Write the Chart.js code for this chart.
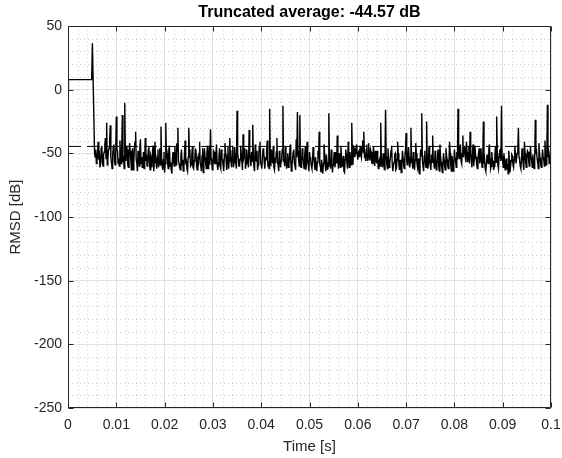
<!DOCTYPE html>
<html>
<head>
<meta charset="utf-8">
<script src="https://cdn.jsdelivr.net/npm/chart.js@4"></script>
<style>
  html, body { margin: 0; padding: 0; background: #fff; }
  #wrap { width: 562px; height: 458px; }
</style>
</head>
<body>
<div id="wrap"><canvas id="rmsdChart" width="562" height="458"></canvas></div>
<script>
// RMSD vs time, MATLAB style

// start of the record (before the noise settles)
var headTime = [0, 0.0001, 0.0049, 0.00505];
var headRmsd = [0, 7.9, 7.9, 36.5];

// noise part, one value every noiseStep seconds from noiseStart
var noiseStart = 0.0055;
var noiseStep = 0.000125;
var noiseRmsd = [
  -50, -53, -47, -58, -56, -49, -41, -55, -52, -61, -58, -46, -44, -57, -60, -51, -49, -43, -38, -54,
  -26, -59, -55, -48, -46, -40, -28, -53, -57, -62, -51, -45, -43, -56, -59, -50, -21, -47, -48, -58,
  -54, -60, -40, -52, -58, -45, -20, -57, -52, -62, -10.5, -50, -56, -44, -47, -59, -61, -53, -42, -48,
  -55, -63, -50, -46, -63, -57, -45, -41, -33, -55, -58, -64, -48, -52, -60, -45, -39, -58, -53, -61,
  -57, -49, -62, -55, -38, -56, -51, -60, -59, -47, -45, -58, -63, -52, -54, -61, -48, -44, -64, -57,
  -41, -53, -58, -62, -52, -47, -61, -56, -46, -59, -29, -54, -60, -63, -55, -49, -65, -58, -26, -52,
  -50, -58, -62, -47, -44, -60, -57, -63, -66, -54, -49, -57, -60, -45, -53, -59, -42, -48, -30, -56,
  -58, -61, -63, -52, -47, -59, -55, -64, -61, -50, -40, -57, -56, -62, -64, -53, -30, -47, -51, -60,
  -59, -52, -45, -61, -62, -56, -54, -47, -48, -60, -63, -55, -57, -50, -41, -58, -60, -64, -52, -46,
  -65, -57, -46, -53, -58, -62, -50, -44, -62, -55, -44, -59, -31, -54, -56, -63, -61, -48, -49, -58,
  -58, -50, -43, -57, -63, -59, -53, -46, -60, -62, -47, -55, -55, -60, -64, -51, -42, -49, -57, -63,
  -51, -45, -62, -56, -38, -52, -56, -61, -48, -44, -61, -57, -45, -53, -59, -62, -16.6, -50, -54, -60,
  -60, -55, -44, -51, -57, -63, -35, -54, -52, -46, -62, -58, -47, -53, -58, -61, -31.6, -50, -55, -60,
  -49, -56, -27.6, -52, -61, -64, -43, -55, -56, -48, -63, -59, -50, -45, -41, -57, -59, -62, -53, -47,
  -46, -57, -62, -54, -55, -48, -40, -59, -58, -62, -15, -53, -60, -47, -51, -58, -44, -61, -63, -55,
  -56, -49, -38, -57, -59, -64, -48, -52, -61, -56, -53, -47, -12.6, -55, -57, -60, -45, -51, -62, -58,
  -50, -61, -58, -52, -43, -56, -64, -59, -54, -49, -47, -58, -60, -63, -39, -53, -17.6, -48, -55, -60,
  -20, -54, -61, -57, -46, -52, -57, -62, -52, -45, -63, -58, -41, -55, -59, -64, -49, -53, -56, -60,
  -62, -56, -45, -52, -58, -63, -53, -60, -64, -57, -48, -54, -33, -59, -60, -65, -55, -61, -66, -58,
  -43, -50, -59, -64, -51, -57, -63, -60, -18.5, -54, -57, -62, -47, -53, -65, -59, -54, -49, -61, -57,
  -49, -58, -36, -55, -62, -50, -56, -61, -44, -53, -60, -57, -52, -64, -65, -55, -47, -51, -58, -62,
  -41, -54, -61, -49, -54, -59, -26, -52, -59, -45, -46, -53, -50, -47, -43, -51, -55, -49, -48, -53,
  -44, -50, -53, -46, -40, -49, -33, -52, -51, -56, -47, -43, -56, -51, -42, -55, -54, -47, -49, -57,
  -58, -52, -45, -54, -60, -48, -52, -58, -48, -53, -62, -57, -55, -60, -26, -54, -57, -61, -50, -55,
  -63, -56, -15.8, -52, -59, -62, -46, -55, -61, -57, -53, -48, -44, -58, -64, -60, -57, -51, -50, -63,
  -62, -55, -41, -50, -58, -63, -55, -60, -65, -57, -48, -54, -60, -62, -52, -47, -34, -56, -59, -53,
  -45, -53, -61, -57, -30, -54, -56, -62, -49, -58, -63, -55, -42, -50, -58, -61, -54, -63, -66, -57,
  -47, -52, -18.5, -56, -60, -64, -52, -48, -57, -61, -25, -53, -62, -58, -44, -55, -59, -63, -51, -57,
  -36, -55, -58, -62, -48, -56, -63, -59, -53, -47, -60, -64, -43, -52, -57, -61, -65, -58, -50, -55,
  -61, -63, -46, -52, -55, -60, -62, -57, -41, -50, -59, -64, -52, -56, -64, -60, -47, -53, -56, -61,
  -49, -55, -15, -51, -54, -47, -43, -56, -58, -50, -36, -53, -47, -44, -52, -57, -41, -49, -57, -52,
  -45, -58, -33, -50, -55, -61, -48, -43, -60, -54, -44, -51, -53, -59, -62, -55, -50, -46, -58, -54,
  -46, -57, -61, -52, -25, -58, -55, -62, -64, -59, -51, -56, -58, -47, -43, -54, -62, -60, -49, -55,
  -56, -63, -60, -52, -45, -57, -21, -50, -59, -62, -53, -48, -47, -56, -12.6, -52, -57, -61, -50, -55,
  -63, -58, -54, -61, -60, -66, -48, -55, -65, -60, -56, -51, -52, -59, -61, -55, -44, -50, -58, -54,
  -50, -47, -30, -53, -55, -60, -62, -56, -46, -52, -59, -63, -41, -50, -57, -61, -53, -48, -49, -56,
  -60, -52, -45, -53, -56, -61, -51, -57, -62, -55, -23.7, -49, -48, -54, -58, -62, -42, -50, -54, -59,
  -61, -56, -47, -53, -55, -60, -40, -52, -59, -56, -11.8, -53, -50, -58, -57, -49, -44
];

var truncAvg = -44.57;
var xRange = [0, 0.1];
var yRange = [-250, 50];
var xMajor = 0.01, xMinor = 0.002;
var yMajor = 50, yMinor = 10;

var signal = [];
for (var i = 0; i < headTime.length; i++) signal.push({x: headTime[i], y: headRmsd[i]});
for (var j = 0; j < noiseRmsd.length; j++) signal.push({x: noiseStart + j * noiseStep, y: noiseRmsd[j]});

var avgLine = [{x: xRange[0], y: truncAvg}, {x: xRange[1], y: truncAvg}];

var FONT = '"Liberation Sans", Arial, Helvetica, sans-serif';
var INK = '#262626';

var matlabFrame = {
  id: 'matlabFrame',
  beforeDraw: function(chart) {
    var c = chart.ctx;
    c.save();
    c.fillStyle = '#fff';
    c.fillRect(0, 0, chart.width, chart.height);
    c.restore();
  },
  beforeDatasetsDraw: function(chart) {
    var c = chart.ctx, a = chart.chartArea;
    var xs = chart.scales.x, ys = chart.scales.y;
    c.save();
    c.strokeStyle = '#cccccc';
    c.lineWidth = 1;
    c.setLineDash([1, 3]);
    c.beginPath();
    for (var k = 1; k * xMinor < xRange[1] - 1e-9; k++) {
      if (k % 5 === 0) continue;
      var px = Math.round(xs.getPixelForValue(k * xMinor)) + 0.5;
      c.moveTo(px, a.top); c.lineTo(px, a.bottom);
    }
    for (var m = 1; yRange[0] + m * yMinor < yRange[1]; m++) {
      if (m % 5 === 0) continue;
      var py = Math.round(ys.getPixelForValue(yRange[0] + m * yMinor)) + 0.5;
      c.moveTo(a.left, py); c.lineTo(a.right, py);
    }
    c.stroke();
    c.restore();
  },
  afterDatasetsDraw: function(chart) {
    var c = chart.ctx, a = chart.chartArea;
    var xs = chart.scales.x, ys = chart.scales.y;
    var L = Math.round(a.left) + 0.5, R = Math.round(a.right) - 0.5;
    var T = Math.round(a.top) + 0.5, B = Math.round(a.bottom) - 0.5;
    c.save();
    c.strokeStyle = INK;
    c.lineWidth = 1;
    c.beginPath();
    c.rect(L, T, R - L, B - T);
    xs.ticks.forEach(function(t) {
      var px = Math.round(xs.getPixelForValue(t.value)) + 0.5;
      c.moveTo(px, B); c.lineTo(px, B - 5);
      c.moveTo(px, T); c.lineTo(px, T + 5);
    });
    ys.ticks.forEach(function(t) {
      var py = Math.round(ys.getPixelForValue(t.value)) + 0.5;
      c.moveTo(L, py); c.lineTo(L + 5, py);
      c.moveTo(R, py); c.lineTo(R - 5, py);
    });
    c.stroke();
    // title
    c.fillStyle = '#000';
    c.font = 'bold 16px ' + FONT;
    c.textAlign = 'center';
    c.textBaseline = 'middle';
    c.fillText('Truncated average: ' + truncAvg.toFixed(2) + ' dB', (a.left + a.right) / 2, 13);
    c.restore();
  }
};

var ctx = document.getElementById('rmsdChart').getContext('2d');
var rmsdChart = new Chart(ctx, {
  type: 'line',
  data: {
    datasets: [{
      label: 'Truncated average',
      data: avgLine,
      borderColor: '#000',
      borderWidth: 1,
      borderDash: [13, 6],
      pointRadius: 0,
      fill: false
    }, {
      label: 'RMSD',
      data: signal,
      borderColor: '#000',
      borderWidth: 1.4,
      pointRadius: 0,
      tension: 0,
      fill: false
    }]
  },
  options: {
    responsive: false,
    animation: false,
    events: [],
    layout: { padding: { top: 26, right: 11, left: 0, bottom: 0 } },
    plugins: {
      legend: { display: false },
      tooltip: { enabled: false },
      title: { display: false }
    },
    scales: {
      x: {
        type: 'linear',
        min: xRange[0],
        max: xRange[1],
        border: { display: false },
        grid: { color: '#e2e2e2', drawTicks: false },
        ticks: {
          stepSize: xMajor,
          autoSkip: false,
          maxRotation: 0,
          padding: 9,
          color: INK,
          font: { family: FONT, size: 14 },
          callback: function(v) { return String(Math.round(v * 100) / 100); }
        },
        title: {
          display: true,
          text: 'Time [s]',
          color: INK,
          font: { family: FONT, size: 15 },
          padding: { top: 0, bottom: 2 }
        },
        afterFit: function(s) {
          s.height = 50;
          s.paddingLeft = 0;
          s.paddingRight = 0;
        }
      },
      y: {
        type: 'linear',
        min: yRange[0],
        max: yRange[1],
        border: { display: false },
        grid: { color: '#e2e2e2', drawTicks: false },
        ticks: {
          stepSize: yMajor,
          padding: 6,
          color: INK,
          font: { family: FONT, size: 14 }
        },
        title: {
          display: true,
          text: 'RMSD [dB]',
          color: INK,
          font: { family: FONT, size: 15 },
          padding: { top: 7, bottom: 0 }
        },
        afterFit: function(s) { s.width = 68; }
      }
    }
  },
  plugins: [matlabFrame]
});
</script>
</body>
</html>
